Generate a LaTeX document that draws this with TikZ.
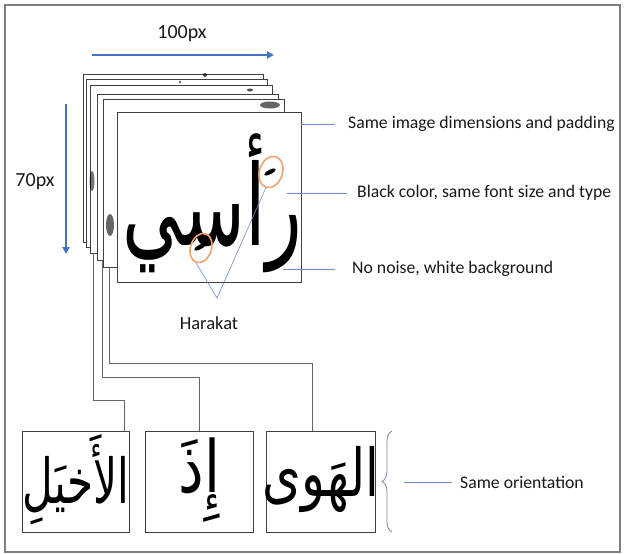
\documentclass[tikz,border=0pt]{standalone}
\usepackage{fontspec}
\setmainfont{Carlito}
\newfontfamily\arabicfont[Script=Arabic]{DejaVu Sans}
\TeXXeTstate=1
\usetikzlibrary{shapes.geometric,decorations.pathreplacing,arrows.meta}
\definecolor{dimblue}{HTML}{4472C4}
\definecolor{leadblue}{HTML}{6E8FCF}
\definecolor{haraorange}{HTML}{F0A36E}
\definecolor{frame}{HTML}{7F7F7F}
\tikzset{
  page/.style={draw=black!75, fill=white, line width=0.9pt, anchor=north west, inner sep=0pt},
  wordbox/.style={draw=black!75, fill=white, line width=0.9pt, anchor=north west, inner sep=0pt, minimum width=108pt, minimum height=101pt},
  dimarrow/.style={dimblue, line width=2.2pt, -{Triangle[length=7pt,width=7pt]}},
  leader/.style={leadblue, line width=0.6pt},
  conn/.style={black!60, line width=0.7pt},
  label/.style={font=\fontsize{17.7}{20}\selectfont, text=black!90, anchor=west, inner sep=0pt},
  hara/.style={draw=haraorange, line width=1.6pt, ellipse, inner sep=0pt},
  blob/.style={fill=black, opacity=0.7},
}
\begin{document}
\begin{tikzpicture}[x=1pt,y=-1pt]
\useasboundingbox (0,0) rectangle (625,554);
\fill[white] (0,0) rectangle (625,554);
\draw[frame, line width=1.3pt] (5,5) rectangle (620,552);

% dimension arrows
\coordinate (hx0) at (92,55);
\coordinate (hx1) at (274,55);
\draw[dimarrow] (hx0) -- (hx1);
\node[font=\fontsize{20}{22}\selectfont, text=black!90] (w100) at (182,34) {100px};
\coordinate (vy0) at (66,104);
\coordinate (vy1) at (66,254);
\draw[dimarrow] (vy0) -- (vy1);
\node[font=\fontsize{20}{22}\selectfont, text=black!90] (h70) at (35,182) {70px};

% stacked pages
\node[page, minimum width=180pt, minimum height=168pt] (p1) at (83,74) {};
\fill[blob] (205,75) ellipse (2 and 2);
\node[page, minimum width=181pt, minimum height=168pt] (p2) at (86,79) {};
\fill[blob] (180,82) ellipse (1 and 1.5);
\node[page, minimum width=182pt, minimum height=168pt] (p3) at (90,85) {};
\fill[blob] (250,90) ellipse (3 and 1.5);
\fill[blob, opacity=0.55] (92,181) ellipse (2.5 and 10);
\node[page, minimum width=181pt, minimum height=166pt] (p4) at (97,94) {};
\node[page, minimum width=181pt, minimum height=168pt] (p5) at (103,99) {};
\fill[blob, opacity=0.6] (270,105) ellipse (10 and 3.5);
\fill[blob, opacity=0.6] (110,225) ellipse (4 and 11);

% front page
\node[page, minimum width=184pt, minimum height=170pt] (front) at (117,112) {};
\node[inner sep=0pt, xscale=0.66, font=\arabicfont\fontsize{112}{120}\selectfont] (word) at (212,203) {\beginR رأسي\endR};
\fill[black, rotate around={28:(270,172)}] (270,172) ellipse (6.5 and 2.2);
\fill[black, rotate around={28:(200,247)}] (200,247) ellipse (6.5 and 2.2);
\node[hara, minimum width=23pt, minimum height=32pt, rotate=-18] (e1) at (271,172) {};
\node[hara, minimum width=21pt, minimum height=30pt, rotate=-18] (e2) at (201,248) {};

% harakat label
\node[font=\fontsize{18.5}{21}\selectfont, text=black!90] (harakat) at (209,323) {Harakat};
\coordinate (hj) at (217,298);
\draw[leader] (e1.south) -- (hj) -- (e2.south);

% right labels
\coordinate (l1a) at (301,124);
\coordinate (l1b) at (335,124);
\draw[leader] (l1a) -- (l1b);
\node[label] (t1) at (348,124) {Same image dimensions and padding};
\coordinate (l2a) at (287,193);
\coordinate (l2b) at (347,193);
\draw[leader] (l2a) -- (l2b);
\node[label] (t2) at (357,193) {Black color, same font size and type};
\coordinate (l3a) at (283,269);
\coordinate (l3b) at (335,269);
\draw[leader] (l3a) -- (l3b);
\node[label] (t3) at (352,269) {No noise, white background};

% bottom word boxes
\node[wordbox, minimum width=107pt] (b1) at (22,431) {};
\node[wordbox, minimum width=108pt] (b2) at (145,431) {};
\node[wordbox, minimum width=109pt] (b3) at (266,431) {};
\node[inner sep=0pt, xscale=0.68, font=\arabicfont\fontsize{62}{70}\selectfont] (w1) at ([yshift=2pt]b1.center) {\beginR الأَخيَلِ\endR};
\node[inner sep=0pt, xscale=0.8, font=\arabicfont\fontsize{72}{80}\selectfont] (w2) at ([yshift=2pt]b2.center) {\beginR إِذَ\endR};
\node[inner sep=0pt, xscale=0.75, font=\arabicfont\fontsize{66}{74}\selectfont] (w3) at ([yshift=2pt]b3.center) {\beginR الهَوى\endR};

% connectors from pages to boxes
\coordinate (c1) at (93,253);
\coordinate (c2) at (102,260);
\coordinate (c3) at (109,267);
\draw[conn] (c1) -- (93,400) -- (124,400) -- (b1.north -| 124,0);
\draw[conn] (c2) -- (102,377) -- (199,377) -- (b2.north -| 199,0);
\draw[conn] (c3) -- (109,363) -- (312,363) -- (b3.north -| 312,0);

% brace
\coordinate (br0) at (392,431);
\coordinate (br1) at (392,532);
\draw[leadblue!60!gray, line width=0.8pt, decorate, decoration={brace, amplitude=10pt, mirror}] (br0) -- (br1);
\coordinate (brt) at (404,482);
\coordinate (brl) at (452,482);
\draw[leader] (brt) -- (brl);
\node[label] (t4) at (460,482) {Same orientation};
\end{tikzpicture}
\end{document}
